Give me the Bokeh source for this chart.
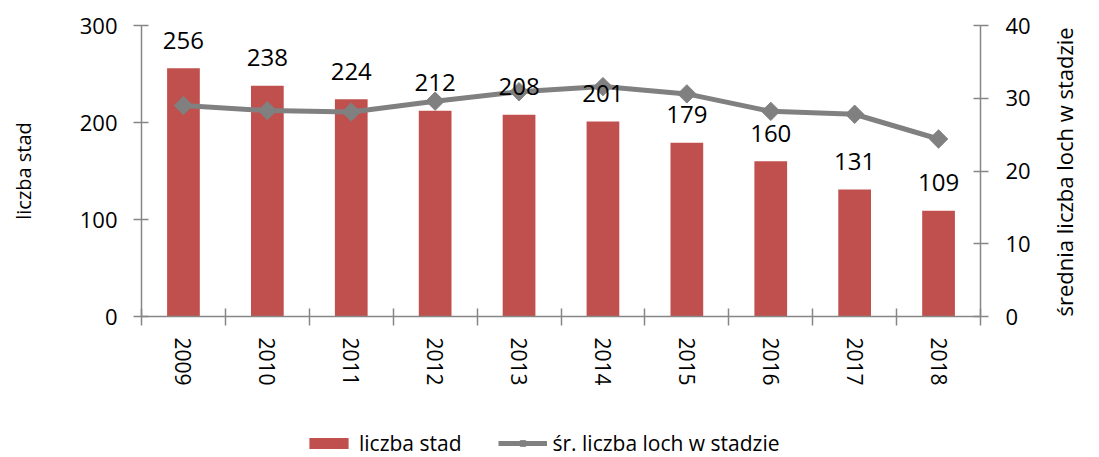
import math
from bokeh.plotting import figure
from bokeh.layouts import column
from bokeh.models import (Range1d, LinearAxis, FixedTicker, Legend, LegendItem,
                          ColumnDataSource)
from bokeh.core.properties import value
from bokeh.embed import file_html
from bokeh.resources import INLINE

years = ["2009", "2010", "2011", "2012", "2013", "2014", "2015", "2016", "2017", "2018"]
herds = [256, 238, 224, 212, 208, 201, 179, 160, 131, 109]
avg_sows = [29.0, 28.3, 28.1, 29.6, 30.9, 31.6, 30.6, 28.2, 27.8, 24.4]

left_ticks = [0, 100, 200, 300]
right_ticks = [0, 10, 20, 30, 40]
left_title = "liczba stad"
right_title = "średnia liczba loch w stadzie"
series_names = ["liczba stad", "śr. liczba loch w stadzie"]

FONT = "Open Sans"
BAR = "#C0504D"
LINE = "#808080"
AXIS = "#868686"

xs = [i + 0.5 for i in range(len(years))]
src = ColumnDataSource(dict(x=xs, herds=herds, avg=avg_sows,
                            lbl=[str(v) for v in herds]))

W = 1099
H1, H2 = 400, 57
p = figure(width=W, height=H1, output_backend="svg", toolbar_location=None,
           x_range=Range1d(0, len(years)), y_range=Range1d(0, 300),
           min_border_left=141, min_border_right=W - 980, min_border_top=25,
           min_border_bottom=H1 - 316)
p.outline_line_color = None
p.xgrid.visible = False
p.ygrid.visible = False

p.extra_y_ranges = {"right": Range1d(0, 40)}

p.vbar(x="x", top="herds", width=0.39, source=src, fill_color=BAR, line_color=None)
p.line(x="x", y="avg", source=src, y_range_name="right", line_color=LINE, line_width=5)
p.scatter(x="x", y="avg", source=src, y_range_name="right", marker="square",
          angle=math.pi / 4, size=13, fill_color=LINE, line_color=LINE)

p.text(x="x", y="herds", text="lbl", source=src, text_font=value(FONT),
       text_font_size="24px", text_align="center", text_baseline="middle",
       y_offset=-28, text_color="black")

# x axis
xa = p.xaxis[0]
xa.ticker = FixedTicker(ticks=xs, minor_ticks=list(range(len(years) + 1)))
xa.major_label_overrides = {x: y for x, y in zip(xs, years)}
xa.major_tick_line_color = None
xa.minor_tick_in = 8
xa.minor_tick_out = 9
xa.minor_tick_line_color = AXIS
xa.minor_tick_line_width = 1.5
xa.axis_line_color = AXIS
xa.axis_line_width = 1.5
xa.major_label_orientation = "vertical"
xa.major_label_text_font = FONT
xa.major_label_text_font_size = "21px"
xa.major_label_text_color = "black"
xa.major_label_standoff = 12

# left axis
ya = p.yaxis[0]
ya.ticker = FixedTicker(ticks=left_ticks)
ya.minor_tick_line_color = None
ya.major_tick_in = 7
ya.major_tick_out = 8
ya.major_tick_line_color = AXIS
ya.major_tick_line_width = 1.5
ya.axis_line_color = AXIS
ya.axis_line_width = 1.5
ya.major_label_text_font = FONT
ya.major_label_text_font_size = "22px"
ya.major_label_text_color = "black"
ya.major_label_standoff = 16
ya.axis_label = left_title
ya.axis_label_text_font = FONT
ya.axis_label_text_font_size = "20px"
ya.axis_label_text_font_style = "normal"
ya.axis_label_text_color = "black"
ya.axis_label_standoff = 40

ra = LinearAxis(y_range_name="right", ticker=FixedTicker(ticks=right_ticks))
ra.minor_tick_line_color = None
ra.major_tick_in = 7
ra.major_tick_out = 8
ra.major_tick_line_color = AXIS
ra.major_tick_line_width = 1.5
ra.axis_line_color = AXIS
ra.axis_line_width = 1.5
ra.major_label_text_font = FONT
ra.major_label_text_font_size = "22px"
ra.major_label_text_color = "black"
ra.major_label_standoff = 17
p.add_layout(ra, "right")

# right-hand title, reading bottom-to-top, drawn as an outer axis label
rt = LinearAxis(y_range_name="right", ticker=FixedTicker(ticks=[right_ticks[0]]))
rt.major_label_overrides = {right_ticks[0]: right_title}
rt.major_label_orientation = math.pi / 2
rt.axis_line_color = None
rt.major_tick_line_color = None
rt.minor_tick_line_color = None
rt.major_tick_in = 0
rt.major_tick_out = 0
rt.major_label_text_font = FONT
rt.major_label_text_font_size = "22px"
rt.major_label_text_color = "black"
rt.major_label_standoff = 30
p.add_layout(rt, "right")

# legend strip
p2 = figure(width=W, height=H2, output_backend="svg", toolbar_location=None,
            x_range=p.x_range, y_range=Range1d(-1001, -1000),
            x_axis_type=None, y_axis_type=None, min_border=0)
p2.outline_line_color = None
p2.xgrid.visible = False
p2.ygrid.visible = False
lb = p2.vbar(x="x", top="herds", width=0.39, source=src, fill_color=BAR, line_color=None)
ll = p2.line(x="x", y="avg", source=src, line_color=LINE, line_width=5)
lm = p2.scatter(x="x", y="avg", source=src, marker="square", angle=math.pi / 4,
                size=13, fill_color=LINE, line_color=LINE)
for r in (lb, ll, lm):
    r.visible = False

legend = Legend(items=[LegendItem(label=series_names[0], renderers=[lb]),
                       LegendItem(label=series_names[1], renderers=[ll, lm])],
                location=(163, 0), orientation="horizontal",
                label_text_font=FONT, label_text_font_size="21px",
                label_text_color="black", glyph_width=49, glyph_height=14,
                label_standoff=6, spacing=36, padding=0, margin=0,
                inactive_fill_alpha=0,
                border_line_color=None, background_fill_alpha=0)
p2.add_layout(legend, "center")

layout = column(p, p2, spacing=0)
open("out.html", "w").write(file_html(layout, INLINE))
